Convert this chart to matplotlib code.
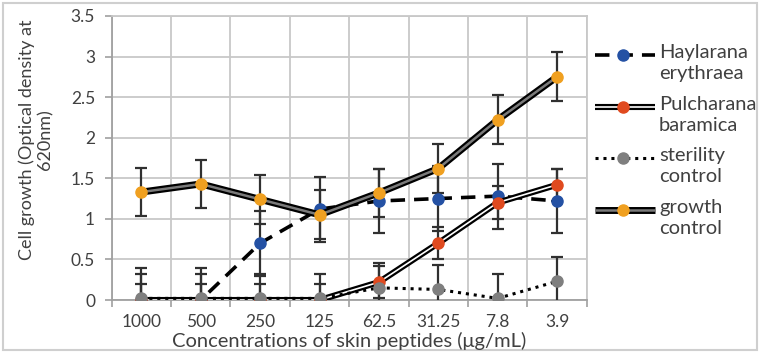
import matplotlib
matplotlib.use("Agg")
import matplotlib.pyplot as plt
from matplotlib.patches import Rectangle
import numpy as np

categories = ["1000", "500", "250", "125", "62.5", "31.25", "7.8", "3.9"]
haylarana = [0.0, 0.0, 0.70, 1.12, 1.22, 1.25, 1.28, 1.22]
haylarana_err = [0.4, 0.4, 0.4, 0.4, 0.4, 0.4, 0.4, 0.4]
pulcharana = [0.0, 0.0, 0.0, 0.0, 0.22, 0.70, 1.20, 1.42]
pulcharana_err = [0.2, 0.2, 0.2, 0.2, 0.2, 0.2, 0.2, 0.2]
sterility = [0.02, 0.02, 0.02, 0.02, 0.15, 0.13, 0.02, 0.23]
sterility_err = [0.3, 0.3, 0.3, 0.3, 0.3, 0.3, 0.3, 0.3]
growth = [1.33, 1.43, 1.24, 1.05, 1.32, 1.62, 2.22, 2.75]
growth_err = [0.3, 0.3, 0.3, 0.3, 0.3, 0.3, 0.3, 0.3]
labels = ["Haylarana\nerythraea", "Pulcharana\nbaramica", "sterility\ncontrol", "growth\ncontrol"]

plt.rcParams['font.family'] = ['Lato', 'DejaVu Sans']
txt = '#404040'

W, H = 760, 354
fig = plt.figure(figsize=(7.6, 3.54), dpi=100)
ax = fig.add_axes([0.147, 0.1525, 0.625, 0.8025])
x = np.arange(len(categories))

blue = '#2451a4'
red = '#e04a1f'
grey = '#7f7f7f'
orange = '#f0a020'
ecol = '#303030'

styles = [
    dict(layers=[dict(color='black', lw=2.6, ls=(0, (4, 2.5)))], mc=blue),
    dict(layers=[dict(color='black', lw=4.4, solid_capstyle='butt'),
                 dict(color='white', lw=1.2, solid_capstyle='butt')], mc=red),
    dict(layers=[dict(color='black', lw=2.2, ls=(0, (1, 1.6)))], mc=grey),
    dict(layers=[dict(color='black', lw=5.0, solid_capstyle='butt'),
                 dict(color='#7a7a7a', lw=1.8, solid_capstyle='butt')], mc=orange),
]
series = [(haylarana, haylarana_err), (pulcharana, pulcharana_err),
          (sterility, sterility_err), (growth, growth_err)]

for i, ((vals, errs), st) in enumerate(zip(series, styles)):
    z = 6 + i
    ax.errorbar(x, vals, yerr=errs, fmt='none', ecolor=ecol, elinewidth=1.6,
                capsize=4, capthick=1.6, zorder=2 + i)
    for k, layer in enumerate(st['layers']):
        ax.plot(x, vals, zorder=z + 0.01 * k, **layer)
    ax.plot(x, vals, ls='none', marker='o', ms=8, color=st['mc'], zorder=z + 0.1)

ax.set_xlim(-0.5, len(categories) - 0.5)
ax.set_ylim(0, 3.5)
ax.set_yticks(np.arange(0, 3.51, 0.5))
ax.set_yticklabels(['0', '0.5', '1', '1.5', '2', '2.5', '3', '3.5'])
ax.set_xticks(x)
ax.set_xticklabels(categories)
ax.set_xticks(np.arange(-0.5, len(categories), 1.0), minor=True)
ax.tick_params(axis='x', which='major', length=0, labelsize=12.5, colors=txt, pad=16)
ax.tick_params(axis='x', which='minor', length=5, color='#a0a0a0', width=1.2)
ax.tick_params(axis='y', which='major', length=5, color='#a0a0a0', width=1.2,
               labelsize=12.5, labelcolor=txt, pad=7)
for lbl in ax.get_xticklabels():
    lbl.set_verticalalignment('center')
ax.grid(True, which='minor', axis='x', color='#c8c8c8', lw=1.3)
ax.grid(True, which='major', axis='y', color='#c8c8c8', lw=1.3)
ax.set_axisbelow(True)
for s in ['top', 'right']:
    ax.spines[s].set_color('#c8c8c8')
    ax.spines[s].set_linewidth(1.3)
for s in ['left', 'bottom']:
    ax.spines[s].set_color('#a0a0a0')
    ax.spines[s].set_linewidth(1.3)

# axis titles placed in pixel positions
ax_cx = (0.147 + 0.625 / 2) * W
fig.text(ax_cx / W, 1 - 341 / H, 'Concentrations of skin peptides (μg/mL)', fontsize=14.5,
         color=txt, ha='center', va='center')
fig.text(36 / W, 1 - 140 / H, 'Cell growth (Optical density at\n620nm)', fontsize=13,
         color=txt, ha='center', va='center', rotation=90, multialignment='center',
         linespacing=1.2)

# legend drawn in a pixel-coordinate overlay
lax = fig.add_axes([0, 0, 1, 1], facecolor='none')
lax.set_xlim(0, W)
lax.set_ylim(H, 0)
lax.axis('off')
entry_y = [55, 107, 158, 210]
for lab, st, yy in zip(labels, styles, entry_y):
    for k, layer in enumerate(st['layers']):
        lax.plot([595, 655], [yy, yy], **layer)
    lax.plot([623], [yy], ls='none', marker='o', ms=8, color=st['mc'])
    lax.text(659, yy - 11, lab, fontsize=14.5, color=txt, va='top', ha='left',
             linespacing=1.3)

fig.patches.append(Rectangle((0.004, 0.012), 0.992, 0.98, transform=fig.transFigure,
                             fill=False, edgecolor='#cfcfcf', lw=1.5))

fig.savefig('out.png', dpi=100)
